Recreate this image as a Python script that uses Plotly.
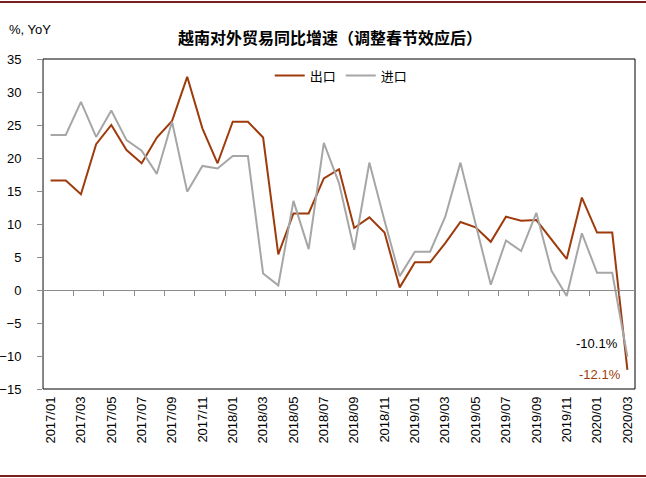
import plotly.graph_objects as go

months = [f"{y}/{m:02d}" for y in (2017, 2018, 2019) for m in range(1, 13)] + ["2020/01", "2020/02", "2020/03"]

export_yoy = [16.6, 16.6, 14.5, 22.1, 25.0, 21.2, 19.2, 23.1, 25.6, 32.3, 24.5, 19.2,
              25.5, 25.5, 23.1, 5.4, 11.6, 11.6, 16.9, 18.3, 9.4, 11.0, 8.7, 0.4,
              4.2, 4.2, 7.1, 10.3, 9.5, 7.3, 11.1, 10.5, 10.6, 7.6, 4.7, 14.0,
              8.7, 8.7, -12.1]
import_yoy = [23.5, 23.5, 28.5, 23.2, 27.2, 22.7, 21.1, 17.6, 25.5, 14.9, 18.8, 18.4,
              20.3, 20.3, 2.5, 0.7, 13.5, 6.2, 22.3, 16.2, 6.1, 19.3, 10.5, 2.1,
              5.8, 5.8, 11.1, 19.3, 10.0, 0.8, 7.5, 5.9, 11.7, 2.9, -0.9, 8.6,
              2.6, 2.6, -10.1]
y_ticks = [35, 30, 25, 20, 15, 10, 5, 0, -5, -10, -15]

ORANGE = "#9E3B0C"
GRAY = "#A6A6A6"
n = len(months)
x = list(range(n))
font_lat = "Liberation Sans"
font_cjk = "Noto Sans CJK SC"

W, H = 646, 478
ML, MR, MT, MB = 43, 11, 59, 89
PW, PH = W - ML - MR, H - MT - MB

fig = go.Figure()
fig.add_trace(go.Scatter(x=x, y=export_yoy, mode="lines", name="出口",
                         line=dict(color=ORANGE, width=2)))
fig.add_trace(go.Scatter(x=x, y=import_yoy, mode="lines", name="进口",
                         line=dict(color=GRAY, width=2)))
# invisible trace to host the zero-line axis
fig.add_trace(go.Scatter(x=[x[0]], y=[0], xaxis="x2", mode="lines",
                         showlegend=False, hoverinfo="skip", line=dict(width=0)))

ymin, ymax = min(y_ticks), max(y_ticks)
zero_frac = (0 - ymin) / (ymax - ymin)

fig.update_layout(
    width=W, height=H,
    margin=dict(l=ML, r=MR, t=MT, b=MB, autoexpand=False),
    paper_bgcolor="white", plot_bgcolor="white",
    showlegend=True,
    legend=dict(orientation="h", x=0.383, y=0.995, xanchor="left", yanchor="top",
                font=dict(family=font_cjk, size=13, color="black"),
                bgcolor="rgba(0,0,0,0)", tracegroupgap=0),
    xaxis=dict(range=[-0.5, n - 0.5], tickmode="array",
               tickvals=x[::2], ticktext=months[::2], tickangle=-90,
               tickfont=dict(family=font_lat, size=13, color="black"),
               showgrid=False, zeroline=False, showline=False, ticks="",
               ticklabelstandoff=4, automargin=False),
    xaxis2=dict(overlaying="x", anchor="free", position=zero_frac, side="bottom",
                range=[-0.5, n - 0.5], tickmode="array",
                tickvals=[v + 0.5 for v in x[1::2]], showticklabels=False,
                ticks="outside", ticklen=5, tickcolor="#8C8C8C", tickwidth=1,
                showline=True, linecolor="#8C8C8C", linewidth=1,
                showgrid=False, zeroline=False, automargin=False),
    yaxis=dict(range=[ymin, ymax], tickmode="array", tickvals=y_ticks,
               tickfont=dict(family=font_lat, size=13, color="black"),
               showgrid=False, zeroline=False, showline=True, linecolor="#8C8C8C",
               linewidth=1, ticks="outside", ticklen=5, tickcolor="#8C8C8C",
               ticklabelstandoff=13, automargin=False),
    font=dict(family=font_lat, size=13, color="black"),
)

# plot border
fig.add_shape(type="rect", xref="paper", yref="paper", x0=0, x1=1, y0=0, y1=1,
              line=dict(color="black", width=1), layer="below")
# dark red decorative rules at page top and bottom
for py in (2, H - 2):
    yy = (H - MB - py) / PH
    fig.add_shape(type="line", xref="paper", yref="paper", x0=-ML / PW, x1=(W - ML) / PW,
                  y0=yy, y1=yy, line=dict(color="#7A1E1E", width=2))

fig.add_annotation(text="越南对外贸易同比增速（调整春节效应后）", xref="paper", yref="paper",
                   x=(330 - ML) / PW, y=(H - MB - 37) / PH, xanchor="center", yanchor="middle",
                   showarrow=False,
                   font=dict(family=font_cjk, size=16, color="black", weight="bold"))
fig.add_annotation(text="%, YoY", xref="paper", yref="paper", x=(7 - ML) / PW,
                   y=(H - MB - 30) / PH, xanchor="left", yanchor="middle", showarrow=False,
                   font=dict(family=font_lat, size=13, color="black"))
fig.add_annotation(text=f"{import_yoy[-1]:.1f}%", x=x[-1] - 2.0, y=import_yoy[-1] + 2.0,
                   xanchor="center", yanchor="middle", showarrow=False,
                   font=dict(family=font_lat, size=13, color="black"))
fig.add_annotation(text=f"{export_yoy[-1]:.1f}%", x=x[-1] - 1.8, y=export_yoy[-1] - 0.7,
                   xanchor="center", yanchor="middle", showarrow=False,
                   font=dict(family=font_lat, size=13, color=ORANGE))

fig.write_html("out.html", config={"displayModeBar": False},
               post_script="document.body.style.margin='0';")
